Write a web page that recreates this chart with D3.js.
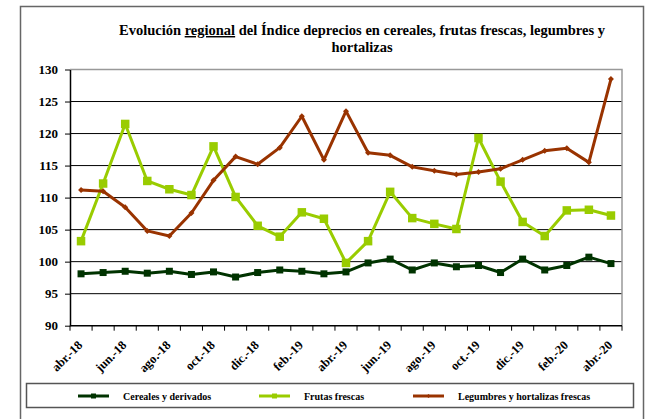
<!DOCTYPE html>
<html>
<head>
<meta charset="utf-8">
<script src="https://cdn.jsdelivr.net/npm/d3@7"></script>
<style>
  html, body { margin: 0; padding: 0; background: #fff; }
  svg { display: block; font-family: "Liberation Serif", "Times New Roman", serif; font-weight: bold; }
</style>
</head>
<body>
<svg id="chart" width="646" height="419"></svg>
<script>
// Monthly categories, April 2018 – April 2020
const months = [
  "abr.-18","may.-18","jun.-18","jul.-18","ago.-18","sep.-18","oct.-18","nov.-18","dic.-18",
  "ene.-19","feb.-19","mar.-19","abr.-19","may.-19","jun.-19","jul.-19","ago.-19","sep.-19",
  "oct.-19","nov.-19","dic.-19","ene.-20","feb.-20","mar.-20","abr.-20"
];

// Price index per group
const cereales = [98.1, 98.3, 98.5, 98.2, 98.5, 98.0, 98.4, 97.6, 98.3, 98.7, 98.5, 98.1, 98.4,
                  99.8, 100.4, 98.7, 99.8, 99.2, 99.4, 98.3, 100.4, 98.7, 99.4, 100.7, 99.7];
const frutas = [103.2, 112.2, 121.5, 112.6, 111.3, 110.4, 118.0, 110.1, 105.6, 103.9, 107.7, 106.7, 99.8,
                103.2, 110.9, 106.8, 105.9, 105.1, 119.3, 112.5, 106.2, 104.0, 108.0, 108.1, 107.2];
const legumbres = [111.2, 111.0, 108.5, 104.8, 104.0, 107.6, 112.7, 116.4, 115.2, 117.8, 122.7, 115.9, 123.5,
                   117.0, 116.6, 114.8, 114.2, 113.6, 114.0, 114.5, 115.9, 117.3, 117.7, 115.5, 128.5];

const yTicks = [90, 95, 100, 105, 110, 115, 120, 125, 130];

const series = [
  { name: "Cereales y derivados", values: cereales, color: "#003300", marker: "square", size: 7 },
  { name: "Frutas frescas", values: frutas, color: "#99cc00", marker: "square", size: 8.5 },
  { name: "Legumbres y hortalizas frescas", values: legumbres, color: "#993300", marker: "diamond", size: 6 }
];

const svg = d3.select("#chart");

// Outer chart frame
svg.append("rect")
  .attr("x", 20.5).attr("y", 6.5).attr("width", 623).attr("height", 520)
  .attr("fill", "none").attr("stroke", "#666").attr("stroke-width", 1.5);

// Title
const title = svg.append("text")
  .attr("x", 362).attr("y", 35)
  .attr("text-anchor", "middle")
  .attr("font-size", 14.5);
title.append("tspan").text("Evolución ");
title.append("tspan").attr("text-decoration", "underline").text("regional");
title.append("tspan").text(" del Índice deprecios en cereales, frutas frescas, legumbres y");
svg.append("text")
  .attr("x", 362).attr("y", 52)
  .attr("text-anchor", "middle")
  .attr("font-size", 14.5)
  .text("hortalizas");

// Plot area
const plotLeft = 70, plotRight = 622, plotTop = 69.5, plotBottom = 325.7;

const x = d3.scaleBand().domain(months).range([plotLeft, plotRight]);
const y = d3.scaleLinear().domain([90, 130]).range([plotBottom, plotTop]);
const cx = m => x(m) + x.bandwidth() / 2;

// Horizontal gridlines
svg.append("g").selectAll("line")
  .data(yTicks.filter(t => t > 90 && t < 130))
  .join("line")
  .attr("x1", plotLeft).attr("x2", plotRight)
  .attr("y1", d => y(d)).attr("y2", d => y(d))
  .attr("stroke", "#000").attr("stroke-width", 1);

// Plot area border (top and right)
svg.append("path")
  .attr("d", `M${plotLeft},${plotTop}H${plotRight}V${plotBottom}`)
  .attr("fill", "none").attr("stroke", "#999").attr("stroke-width", 1.5);

// Y axis
const yAxis = svg.append("g")
  .attr("transform", `translate(${plotLeft},0)`)
  .call(d3.axisLeft(y).tickValues(yTicks).tickSize(5).tickSizeOuter(0).tickPadding(7));
yAxis.select(".domain").attr("stroke", "#000").attr("stroke-width", 1.5);
yAxis.selectAll(".tick line").attr("stroke", "#000");
yAxis.selectAll(".tick text")
  .attr("font-family", "Liberation Serif, Times New Roman, serif")
  .attr("font-weight", "bold").attr("font-size", 13).attr("fill", "#000");

// X axis line and category boundary ticks
svg.append("line")
  .attr("x1", plotLeft).attr("x2", plotRight).attr("y1", plotBottom).attr("y2", plotBottom)
  .attr("stroke", "#000").attr("stroke-width", 1.5);
const boundaries = months.map(m => x(m)).concat([x.range()[1]]);
svg.append("g").selectAll("line")
  .data(boundaries)
  .join("line")
  .attr("x1", d => d).attr("x2", d => d)
  .attr("y1", plotBottom).attr("y2", plotBottom + 5)
  .attr("stroke", "#000").attr("stroke-width", 1);

// X labels, every other month, rotated
svg.append("g").selectAll("text")
  .data(months.filter((m, i) => i % 2 === 0))
  .join("text")
  .attr("transform", d => `translate(${cx(d) - 1},${plotBottom + 17}) rotate(-45)`)
  .attr("text-anchor", "end")
  .attr("dy", "0.35em")
  .attr("font-size", 12.5)
  .text(d => d);

// Series lines and markers
const line = d3.line().x((d, i) => cx(months[i])).y(d => y(d));
const symbolPath = (s) => s.marker === "square"
  ? `M${-s.size/2},${-s.size/2}h${s.size}v${s.size}h${-s.size}Z`
  : `M0,${-s.size/2}L${s.size/2},0L0,${s.size/2}L${-s.size/2},0Z`;

series.forEach(s => {
  const g = svg.append("g");
  g.append("path")
    .attr("d", line(s.values))
    .attr("fill", "none").attr("stroke", s.color).attr("stroke-width", 3)
    .attr("stroke-linejoin", "round");
  g.selectAll("path.m")
    .data(s.values)
    .join("path")
    .attr("class", "m")
    .attr("transform", (d, i) => `translate(${cx(months[i])},${y(d)})`)
    .attr("d", symbolPath(s))
    .attr("fill", s.color);
});

// Legend
svg.append("rect")
  .attr("x", 26.5).attr("y", 383.5).attr("width", 607).attr("height", 24)
  .attr("fill", "#fff").attr("stroke", "#555").attr("stroke-width", 1.5);
const legendPos = [78, 259, 413];
series.forEach((s, i) => {
  const lx = legendPos[i];
  svg.append("line")
    .attr("x1", lx).attr("x2", lx + 31).attr("y1", 396).attr("y2", 396)
    .attr("stroke", s.color).attr("stroke-width", 3);
  const ms = Object.assign({}, s, { size: s.marker === "square" ? 5 : 4 });
  svg.append("path")
    .attr("transform", `translate(${lx + 15.5},396)`)
    .attr("d", symbolPath(ms))
    .attr("fill", s.color);
  svg.append("text")
    .attr("x", lx + 45).attr("y", 396).attr("dy", "0.35em")
    .attr("font-size", 10)
    .text(s.name);
});
</script>
</body>
</html>
